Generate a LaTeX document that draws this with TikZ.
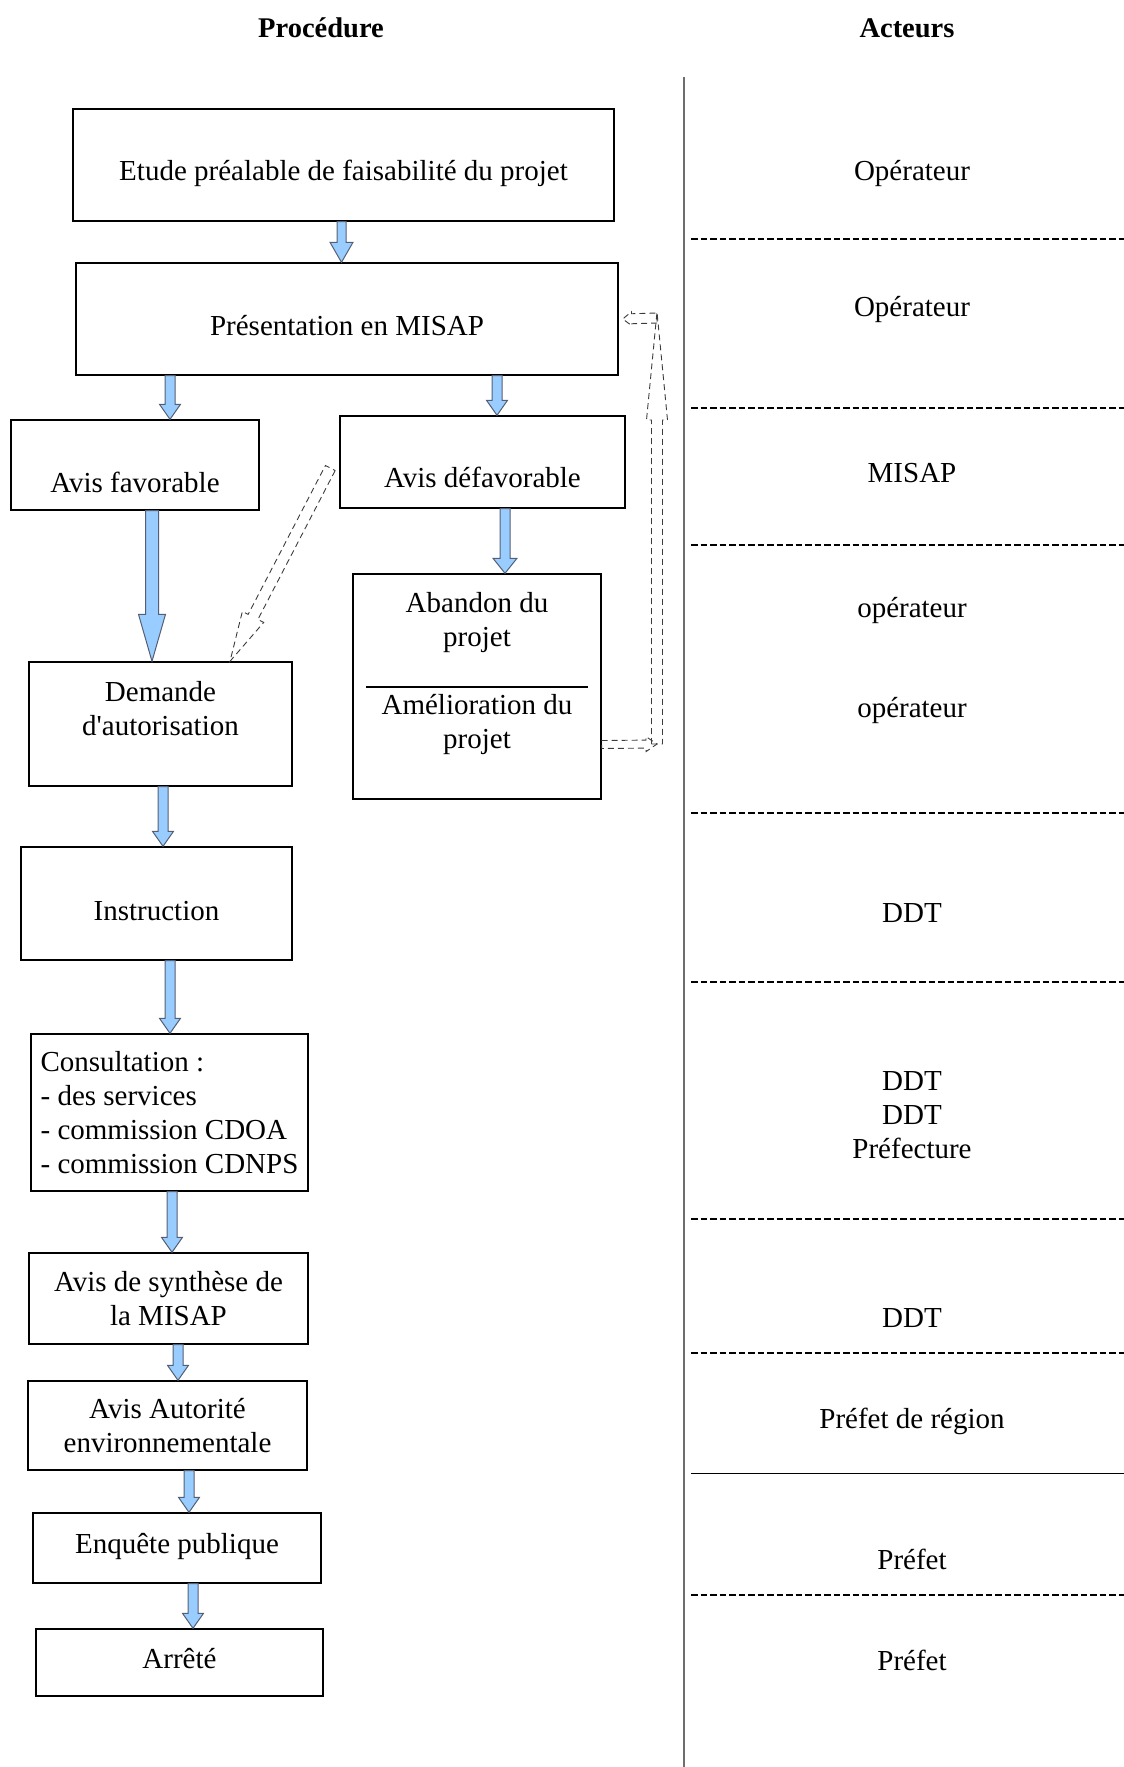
\documentclass[tikz,border=0pt]{standalone}
\usepackage{fontspec}
\setmainfont{Liberation Serif}
\usetikzlibrary{calc}

\definecolor{blockfill}{RGB}{153,204,255}
\definecolor{blockedge}{RGB}{85,95,115}
\definecolor{dashgray}{RGB}{60,60,60}
\definecolor{sepgray}{RGB}{110,110,110}

\tikzset{
  shaft half/.store in=\shafthalf, head half/.store in=\headhalf,
  head len/.store in=\headlen,
  shaft half=5pt, head half=10.5pt, head len=15pt,
  box/.style={draw, line width=1.4pt, inner sep=0pt},
  actor/.style={anchor=base},
  header/.style={anchor=base, font=\fontsize{28.5}{34}\selectfont\bfseries},
  rowline/.style={line width=2pt, dash pattern=on 6.5pt off 3pt},
  block/.style={draw=blockedge, fill=blockfill, line width=1pt,
    to path={let \p1=(\tikztostart), \p2=(\tikztotarget) in
      (\x1-\shafthalf,\y1) -- (\x1-\shafthalf,\y2+\headlen) -- (\x1-\headhalf,\y2+\headlen)
      -- (\x1,\y2) -- (\x1+\headhalf,\y2+\headlen) -- (\x1+\shafthalf,\y2+\headlen)
      -- (\x1+\shafthalf,\y1) -- cycle}},
  hollow/.style={draw=dashgray, line width=0.9pt, dash pattern=on 6pt off 4pt,
    to path={let \p1=(\tikztostart), \p2=(\tikztotarget),
      \n1={atan2(\y2-\y1,\x2-\x1)} in
      ($(\p1)+({\n1+90}:\shafthalf)$) -- ($(\p2)+(\n1:-\headlen)+({\n1+90}:\shafthalf)$)
      -- ($(\p2)+(\n1:-\headlen)+({\n1+90}:\headhalf)$) -- (\p2)
      -- ($(\p2)+(\n1:-\headlen)+({\n1-90}:\headhalf)$)
      -- ($(\p2)+(\n1:-\headlen)+({\n1-90}:\shafthalf)$)
      -- ($(\p1)+({\n1-90}:\shafthalf)$) -- cycle}}
}

\begin{document}
\begin{tikzpicture}[x=1pt, y=-1pt, every node/.style={font=\fontsize{29}{34}\selectfont}]
\useasboundingbox (0,0) rectangle (1124,1767);

\node[header] (proc) at (321,37) {Procédure};
\node[header] (act) at (907,37) {Acteurs};

% procedure
\node[box, minimum width=541pt, text height=71pt, text depth=41pt] (etude) at (343.5,165) {Etude préalable de faisabilité du projet};
\node[box, minimum width=542pt, text height=72pt, text depth=40pt] (pres) at (347,319) {Présentation en MISAP};
\node[box, minimum width=248pt, text height=72pt, text depth=18pt] (fav) at (135,465) {Avis favorable};
\node[box, minimum width=285pt, text height=71pt, text depth=21pt] (defav) at (482.5,462) {Avis défavorable};
\node[box, minimum width=248pt, minimum height=225pt,
  label={[align=center, yshift=63.5pt]center:{Abandon du\\projet}},
  label={[align=center, yshift=-38pt]center:{Amélioration du\\projet}}] (ab) at (477,686.5) {};
\node[box, minimum width=263pt, minimum height=124pt,
  label={[align=center, yshift=15pt]center:{Demande\\d\textquotesingle autorisation}}] (dem) at (160.5,724) {};
\node[box, minimum width=271pt, text height=73pt, text depth=40pt] (instr) at (156.5,903.5) {Instruction};
\node[box, minimum width=277pt, minimum height=157pt, align=left] (cons) at (169.5,1112.5) {Consultation :\\- des services\\- commission CDOA\\- commission CDNPS};
\node[box, minimum width=279pt, minimum height=91pt, align=center] (syn) at (168.5,1298.5) {Avis de synthèse de\\la MISAP};
\node[box, minimum width=279pt, minimum height=89pt, align=center] (aut) at (167.5,1425.5) {Avis Autorité\\environnementale};
\node[box, minimum width=288pt, text height=40pt, text depth=30pt] (enq) at (177,1548) {Enquête publique};
\node[box, minimum width=287pt, text height=39pt, text depth=28pt] (arr) at (179.5,1662.5) {Arrêté};

\draw[line width=1.4pt] ([xshift=14pt,yshift=-0.5pt]ab.west) -- ([xshift=-14pt,yshift=-0.5pt]ab.east);

\draw[block, shaft half=4.5pt, head half=11.5pt, head len=20pt] ([xshift=-2pt]etude.south) to (pres.north);
\draw[block] ([xshift=-177pt]pres.south) to (fav.north);
\draw[block] ([xshift=150pt]pres.south) to (defav.north);
\draw[block, shaft half=6.5pt, head half=13.5pt, head len=47pt] ([xshift=17pt]fav.south) to (dem.north);
\draw[block, head half=12pt] ([xshift=22.5pt]defav.south) to (ab.north);
\draw[block] ([xshift=2.5pt]dem.south) to (instr.north);
\draw[block] ([xshift=13.5pt]instr.south) to (cons.north);
\draw[block] ([xshift=2.5pt]cons.south) to (syn.north);
\draw[block] ([xshift=9.5pt]syn.south) to (aut.north);
\draw[block] ([xshift=21.5pt]aut.south) to (enq.north);
\draw[block] ([xshift=16pt]enq.south) to (arr.north);

\draw[hollow, shaft half=5.5pt, head half=12pt, head len=50pt] ([xshift=-9pt,yshift=-6pt]defav.west) to ([xshift=69.5pt]dem.north);
\coordinate (elb1) at (657,744);
\coordinate (elb2) at (657,312);
\draw[hollow, shaft half=4pt, head half=7.5pt, head len=11pt] ([yshift=-58pt]ab.east) to (elb1);
\draw[hollow, shaft half=5.5pt, head half=10.5pt, head len=108pt] (elb1) to (elb2);
\draw[hollow, shaft half=5pt, head half=7pt, head len=9pt] ([yshift=-6pt]elb2) to ([xshift=4pt]pres.east);

% actors
\draw[sepgray, line width=1.5pt] (684,77) -- (684,1767);
\foreach \y in {239,408,544.5,813,982,1219,1353,1595}
  \draw[rowline] (691,\y) -- (1124,\y);
\draw[line width=1.3pt] (691,1473.5) -- (1124,1473.5);

\node[actor] (a1) at (912,180) {Opérateur};
\node[actor] (a2) at (912,316) {Opérateur};
\node[actor] (a3) at (912,482) {MISAP};
\node[actor] (a4) at (912,617) {opérateur};
\node[actor] (a5) at (912,717) {opérateur};
\node[actor] (a6) at (912,922) {DDT};
\node[actor] (a7) at (912,1090) {DDT};
\node[actor] (a8) at (912,1124) {DDT};
\node[actor] (a9) at (912,1158) {Préfecture};
\node[actor] (a10) at (912,1327) {DDT};
\node[actor] (a11) at (912,1428) {Préfet de région};
\node[actor] (a12) at (912,1569) {Préfet};
\node[actor] (a13) at (912,1670) {Préfet};
\end{tikzpicture}
\end{document}
